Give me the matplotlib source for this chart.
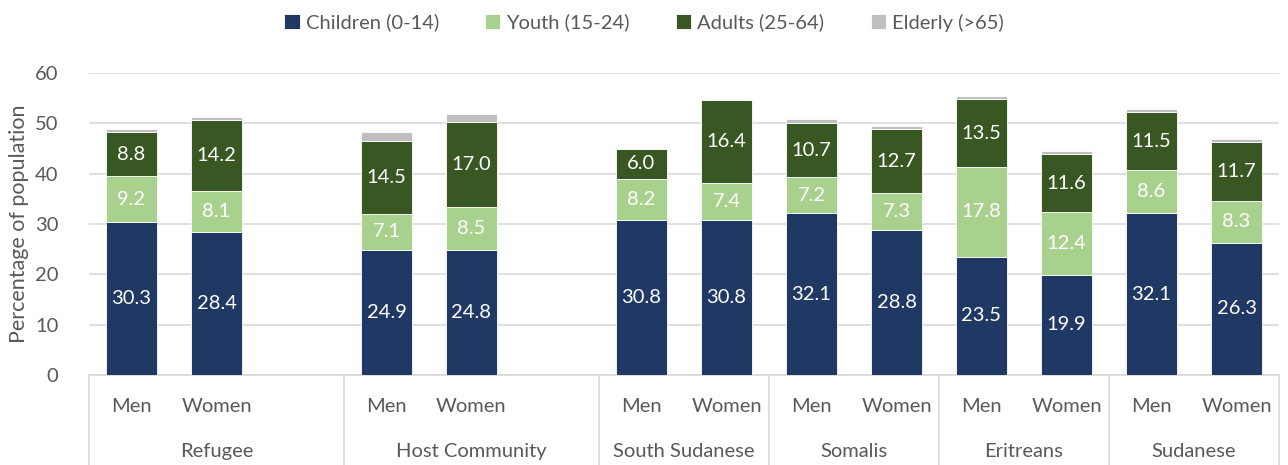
import matplotlib
matplotlib.use("Agg")
import matplotlib.pyplot as plt
import numpy as np

groups = ["Refugee", "Host Community", "South Sudanese", "Somalis", "Eritreans", "Sudanese"]
group_slots = [3, 3, 2, 2, 2, 2]
sexes = ["Men", "Women"]
series = ["Children (0-14)", "Youth (15-24)", "Adults (25-64)", "Elderly (>65)"]
children = [30.3, 28.4, 24.9, 24.8, 30.8, 30.8, 32.1, 28.8, 23.5, 19.9, 32.1, 26.3]
youth = [9.2, 8.1, 7.1, 8.5, 8.2, 7.4, 7.2, 7.3, 17.8, 12.4, 8.6, 8.3]
adults = [8.8, 14.2, 14.5, 17.0, 6.0, 16.4, 10.7, 12.7, 13.5, 11.6, 11.5, 11.7]
elderly = [0.6, 0.6, 1.8, 1.6, 0.1, 0.3, 0.8, 0.6, 0.6, 0.7, 0.7, 0.6]
yticks = [0, 10, 20, 30, 40, 50, 60]

colors = ["#203864", "#A9D18E", "#385723", "#BFBFBF"]
txt = "#595959"
plt.rcParams['font.family'] = ['Lato', 'DejaVu Sans']

fig = plt.figure(figsize=(12.88, 4.65), dpi=100)
ax = fig.add_axes([89/1288, 1-375/465, 1190/1288, (375-73)/465])

# positions
starts = np.concatenate([[0], np.cumsum(group_slots)[:-1]])
xs = []
for s in starts:
    xs += [s + 0.5, s + 1.5]
xs = np.array(xs)
total = sum(group_slots)

data = [np.array(children), np.array(youth), np.array(adults), np.array(elderly)]
bottom = np.zeros(len(xs))
for i, (vals, c, name) in enumerate(zip(data, colors, series)):
    ax.bar(xs, vals, 0.59, bottom=bottom, color=c, label=name, zorder=3,
           edgecolor="white", linewidth=0.6)
    if i < 3:
        for x, b, v in zip(xs, bottom, vals):
            ax.text(x, b + v/2, f"{v:.1f}", ha="center", va="center",
                    color="white", fontsize=14.5, zorder=4)
    bottom = bottom + vals

ax.set_xlim(0, total)
ax.set_ylim(0, 60)
ax.set_yticks(yticks)
ax.tick_params(axis="y", length=0, labelsize=14.5, labelcolor=txt, pad=22)
ax.set_xticks([])
ax.yaxis.grid(True, color="#D9D9D9", linewidth=1.2, zorder=0)
for sp in ["top", "right", "left"]:
    ax.spines[sp].set_visible(False)
ax.spines["bottom"].set_color("#D9D9D9")
ax.spines["bottom"].set_linewidth(1.2)
ax.set_ylabel("Percentage of population", fontsize=15.5, color=txt, labelpad=4)

# category labels
trans = ax.get_xaxis_transform()
for x, k in zip(xs, range(len(xs))):
    ax.text(x, -0.105, sexes[k % 2], transform=trans, ha="center", va="center",
            fontsize=14.5, color=txt)
bounds = np.concatenate([[0], np.cumsum(group_slots)])
for g, s, n in zip(groups, starts, group_slots):
    ax.text(s + n/2, -0.252, g, transform=trans, ha="center", va="center",
            fontsize=14.5, color=txt)
for b in bounds:
    ax.plot([b, b], [0, -0.30], transform=trans, color="#D9D9D9",
            linewidth=1.2, clip_on=False)

leg = fig.legend(loc="upper center", bbox_to_anchor=(0.5, 1.01), ncol=4,
                 frameon=False, fontsize=14.5, handlelength=0.75, handleheight=0.75,
                 columnspacing=2.3, handletextpad=0.3)
for t in leg.get_texts():
    t.set_color(txt)

fig.savefig("out.png", dpi=100)
